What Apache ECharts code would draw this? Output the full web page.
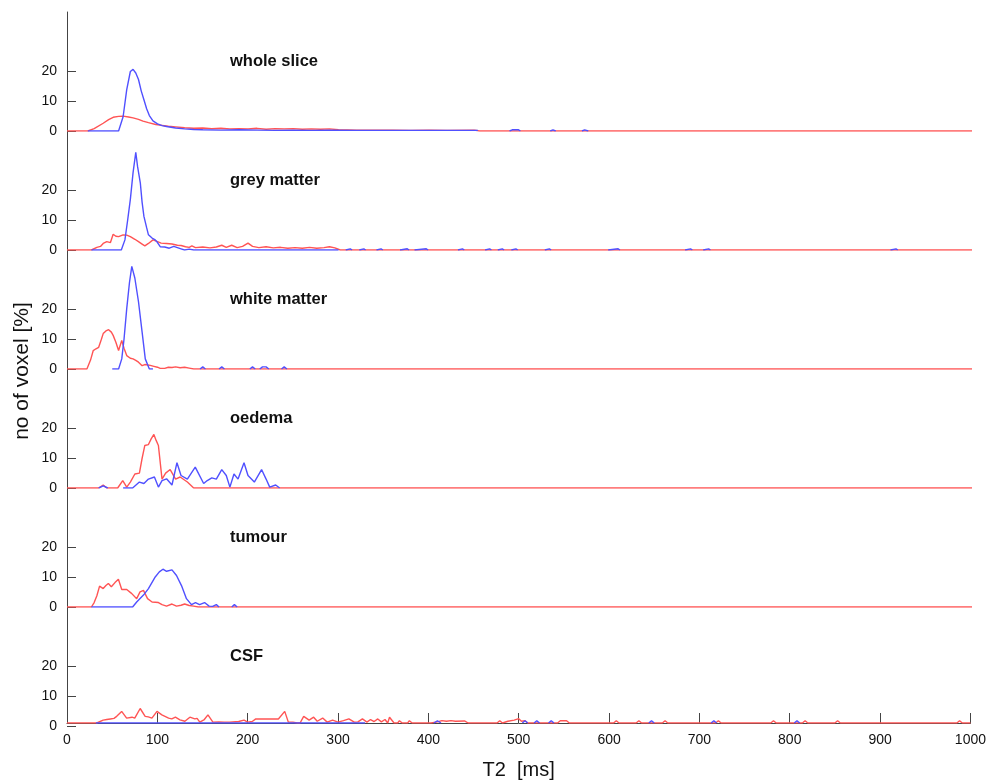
<!DOCTYPE html>
<html>
<head>
<meta charset="utf-8">
<title>T2 histograms</title>
<script src="https://cdn.jsdelivr.net/npm/echarts@6/dist/echarts.min.js"></script>
<style>
  html, body { margin: 0; padding: 0; background: #fff; }
  #chart { width: 989px; height: 781px; }
</style>
</head>
<body>
<div id="chart"></div>
<script>
// panel names, top to bottom
var panelNames = ['whole slice', 'grey matter', 'white matter', 'oedema', 'tumour', 'CSF'];

var xTicks = [0, 100, 200, 300, 400, 500, 600, 700, 800, 900, 1000];
var yTicks = [0, 10, 20];

// [T2 ms, % voxels]; '-' breaks the line
var wsRed = [[0,0],[23,0],[30,0.8],[40,2.6],[46,3.8],[51,4.6],[57,4.9],[62,5.0],[68,4.7],[73,4.4],[79,3.9],[84,3.3],[90,2.8],[98,2.2],[105,1.9],[112,1.6],[120,1.4],[130,1.1],[140,0.9],[150,1.0],[160,0.8],[170,0.9],[180,0.7],[190,0.8],[200,0.7],[210,0.9],[220,0.6],[230,0.8],[240,0.7],[250,0.8],[260,0.6],[270,0.7],[280,0.6],[290,0.7],[300,0.4],[320,0.3],[340,0.3],[360,0.3],[380,0.2],[400,0.3],[420,0.2],[450,0.3],[456,0],[1000,0]];
var wsBlue = [[23,0],[57,0],[62,4.8],[66,13.9],[70,20],[73,20.7],[76,19.5],[79,17.3],[82,13.5],[85,10.5],[88,7.5],[91,5.2],[95,3.4],[100,2.4],[105,1.8],[110,1.5],[120,1.0],[130,0.7],[140,0.5],[150,0.4],[170,0.3],[190,0.4],[210,0.3],[230,0.2],[250,0.3],[270,0.2],[290,0.3],[320,0.2],[362,0.2],[364,0],[366,0.2],[384,0.2],[386,0],[388,0.2],[424,0.2],[426,0],[440,0.2],[454,0.2],[456,'-'],[489,0],[492,0.4],[499,0.4],[501,0],[502,'-'],[534,0],[537,0.4],[540,0],[541,'-'],[569,0],[572,0.4],[576,0]];

var gmRed = [[0,0],[27,0],[33,0.9],[37,1.2],[40,2.2],[44,2.8],[48,2.5],[51,5.3],[54,4.6],[57,4.5],[62,5.1],[66,5.0],[70,4.5],[75,3.6],[79,2.8],[83,2.0],[86,1.4],[90,2.2],[95,3.4],[100,2.8],[104,2.3],[110,2.2],[116,2.0],[122,1.6],[126,1.5],[131,1.1],[135,0.9],[138,1.4],[142,0.8],[150,1.0],[158,0.7],[165,1.0],[171,1.6],[176,0.9],[182,1.6],[188,0.8],[194,1.2],[200,2.3],[205,1.2],[212,0.8],[220,1.1],[228,0.7],[236,0.9],[244,0.6],[252,0.8],[260,0.6],[268,0.9],[276,0.6],[284,0.8],[290,1.1],[296,0.7],[302,0],[1000,0]];
var gmBlue = [[27,0],[60,0],[64,3.4],[67,10],[70,17],[73,26],[76,32.8],[78,28],[81,22.6],[83,16],[85,11.3],[88,7.5],[90,5.1],[94,4.0],[97.5,3.4],[100,2.5],[103,1.1],[108,1.0],[113,0.6],[118,1.2],[122,0.8],[126,0.4],[130,0],[135,0.3],[140,0],[300,0],[301,'-'],
  [308,0],[310,0.4],[313,0.4],[315,0],[316,'-'],[323,0],[325,0.4],[328,0.4],[330,0],[331,'-'],[342,0],[344,0.4],[347,0.4],[349,0],[350,'-'],
  [368,0],[370,0.4],[376,0.4],[378,0],[379,'-'],[384,0],[386,0.4],[397,0.4],[399,0],[400,'-'],[432,0],[434,0.4],[437,0.4],[439,0],[440,'-'],
  [462,0],[464,0.4],[467,0.4],[469,0],[470,'-'],[476,0],[478,0.4],[481,0.4],[483,0],[484,'-'],[491,0],[493,0.4],[496,0.4],[498,0],[499,'-'],
  [528,0],[530,0.4],[533,0.4],[535,0],[536,'-'],[598,0],[600,0.4],[609,0.4],[611,0],[612,'-'],[683,0],[685,0.4],[689,0.4],[691,0],[692,'-'],
  [703,0],[705,0.4],[709,0.4],[711,0],[712,'-'],[910,0],[912,0.4],[916,0.4],[918,0]];

var wmRed = [[0,0],[22,0],[26,3],[29,6.2],[32,6.8],[35,7.3],[38,10],[40,11.9],[43,12.8],[46,13.2],[49,12.4],[51,11.3],[54,9],[57,6.2],[60.5,9.6],[63,7],[66,4.5],[70,3.6],[73,3.4],[76,2.9],[79,2.3],[83,1.1],[86,1.5],[88,1.7],[92,1.2],[96,0.9],[100,0.6],[103,0.2],[108,0.2],[112,0.6],[116,0.5],[120,0.7],[125,0.4],[130,0.6],[135,0.3],[140,0],[1000,0]];
var wmBlue = [[50,0],[57,0],[60.5,3.4],[63,10],[66,20.3],[69,29],[71.6,34.5],[75,30.5],[79,22.6],[83,12.4],[86.5,3.4],[91,0],[95,0],[96,'-'],
  [147,0],[150,0.7],[153,0],[154,'-'],[168,0],[171,0.7],[174,0],[175,'-'],[202,0],[205,0.7],[208,0],[209,'-'],[213,0],[216,0.7],[220,0.7],[223,0],[224,'-'],[237,0],[240,0.7],[243,0]];

var oeRed = [[0,0],[35,0],[40,1],[44,0],[56,0],[61.6,2.5],[66,0.3],[70,2],[75,4.7],[80,5],[83,10],[86,14.3],[90,14.6],[93,16.5],[96,18],[98.5,16],[101,14.3],[105,3],[109,5],[114,6.2],[120,3],[125,3.7],[133,2],[140,0],[1000,0]];
var oeBlue = [[35,0],[40,0.7],[45,0],[46,'-'],[62,0],[72.5,0],[80,2],[85,1.5],[90,3],[96.6,3.7],[101,0.3],[105,2.5],[110,3.1],[116,1],[121.5,8.5],[126,4.2],[133,3],[141.7,7],[151,1.5],[155,2.5],[160,3.4],[165,3],[171,6.2],[176,4.2],[180,0.3],[184.5,4.7],[189,3],[195.6,8.5],[200,4.2],[207,2],[215,6.2],[220,3],[224,0.3],[230.6,1],[235,0]];

var tuRed = [[0,0],[27,0],[30,1.5],[33,3.8],[36,7],[40,6.2],[43,7.2],[45.7,7.9],[49,6.8],[53,8.2],[56.8,9.3],[60.5,5.9],[66,5.9],[71.6,4.5],[77,2.8],[80.7,5.1],[84.5,5.6],[89,2.8],[94,1.7],[101,1.5],[105,0.8],[110,0.3],[116,1],[121,0.3],[126,0.6],[130,1],[135,0.5],[140,0.3],[145,0],[1000,0]];
var tuBlue = [[27,0],[72.5,0],[77,1.7],[84.5,4],[90,6.2],[97.5,10.1],[102,11.8],[106,12.7],[110,12],[116,12.5],[121,10.6],[126.5,7.2],[132,2.8],[137.5,0.8],[142,1.5],[146.5,0.8],[152,1.5],[157,0.3],[161,0.2],[165,0.8],[168,0],[169,'-'],[182,0],[185,0.8],[188,0]];

var csfRed = [[0,0],[33,0],[40,1],[44,1.2],[48,1.4],[52,1.6],[55,2.3],[60.5,4],[66,1.7],[72,2],[75,1.7],[81,5],[86.5,2.3],[90,2.1],[94,1.7],[99.6,4],[105,2.8],[112.5,1.7],[116,1.4],[120,2],[125,1.1],[130.5,0.6],[136,2],[141.5,1.4],[144,1.6],[147,0.3],[152,1.2],[156,2.8],[161.5,0.3],[168,0.4],[174,0.3],[180,0.3],[190,0.5],[196,1],[200,0.3],[205,0.5],[209,1.4],[234,1.4],[241,4],[245,0.3],[250,0.3],[255,0],[258,0],[262,2.3],[268,1],[273,2],[277,0.6],[283,1.7],[288,0.3],[294,1],[300,0.3],[306,0.8],[312,1.4],[318,0.3],[322,0.4],[327,1.4],[332,0.3],[336,1.2],[340,0.5],[344,1.4],[348,0.4],[352,1.2],[355,0],[357,2],[362,0],[366,0],[368,0.8],[371,0],[377,0],[379,0.8],[382,0],[403,0],[405,0.5],[410,0.4],[415,0.8],[420,0.6],[425,0.8],[430,0.6],[440,0.7],[444,0],[476,0],[479,0.8],[482,0],[488,0.6],[495,1],[500,1.5],[503,0.6],[507,0.8],[510,0],[543,0],[546,0.8],[553,0.8],[556,0],[605,0],[608,0.8],[611,0],[630,0],[633,0.8],[636,0],[659,0],[662,0.8],[665,0],[718,0],[721,0.8],[724,0],[779,0],[782,0.8],[785,0],[814,0],[817,0.8],[820,0],[850,0],[853,0.8],[856,0],[985,0],[988,0.8],[991,0],[1000,0]];
var csfBlue = [[32,0],[330,0],[331,'-'],[406,0],[410,0.7],[414,0],[415,'-'],[504,0],[507,0.8],[510,0],[511,'-'],[517,0],[520,0.8],[523,0],[524,'-'],[533,0],[536,0.8],[539,0],[540,'-'],[644,0],[647,0.8],[650,0],[651,'-'],[713,0],[716,0.8],[719,0],[720,'-'],[805,0],[808,0.8],[811,0]];

var redSets = [wsRed, gmRed, wmRed, oeRed, tuRed, csfRed];
var blueSets = [wsBlue, gmBlue, wmBlue, oeBlue, tuBlue, csfBlue];

(function () {
  var RED = '#ff5454';
  var BLUE = '#5050ff';
  var FONT = 'Liberation Sans';

  var chart = echarts.init(document.getElementById('chart'));

  var grids = [], xAxes = [], yAxes = [], series = [], titles = [];
  var plotTop = 12, plotH = 119, yMax = 40;
  var tickH = plotH * (yTicks[yTicks.length - 1] / yMax);
  var n = panelNames.length;

  for (var i = 0; i < n; i++) {
    var panelTop = plotTop + i * plotH;
    var last = (i === n - 1);
    // data grid (full panel height, axis line only)
    grids.push({ left: 67, width: 905, top: panelTop, height: plotH });
    xAxes.push({
      gridIndex: i, type: 'value', min: 0, max: xTicks[xTicks.length - 1], interval: 100,
      show: last,
      name: last ? 'T2  [ms]' : '',
      nameLocation: 'middle', nameGap: 37,
      nameTextStyle: { fontFamily: FONT, fontSize: 20, color: '#111' },
      axisLine: { show: true, lineStyle: { color: '#444', width: 1 } },
      axisTick: { show: true, inside: true, length: 10, lineStyle: { color: '#444' } },
      axisLabel: {
        fontFamily: FONT, fontSize: 14, color: '#111', margin: 10,
        formatter: function (v) { return String(v); }
      },
      splitLine: { show: false }
    });
    yAxes.push({
      gridIndex: i, type: 'value', min: 0, max: yMax, interval: 10,
      axisLine: { show: true, lineStyle: { color: '#444', width: 1 } },
      axisTick: { show: false },
      axisLabel: { show: false },
      splitLine: { show: false }
    });
    series.push({
      type: 'line', xAxisIndex: i, yAxisIndex: i, data: redSets[i],
      showSymbol: false, symbol: 'none', animation: false, z: 2,
      lineStyle: { color: RED, width: 1.4 }
    });
    series.push({
      type: 'line', xAxisIndex: i, yAxisIndex: i, data: blueSets[i],
      showSymbol: false, symbol: 'none', animation: false, z: 3,
      lineStyle: { color: BLUE, width: 1.4 }
    });
    titles.push({
      text: panelNames[i], left: 225, top: panelTop + plotH - 83,
      textStyle: { fontFamily: FONT, fontSize: 16.5, fontWeight: 'bold', color: '#111' }
    });
  }

  // tick grids: the 0..20 part of each panel, carrying the y ticks and labels
  for (var j = 0; j < n; j++) {
    var base = plotTop + (j + 1) * plotH;
    grids.push({ left: 67, width: 905, top: base - tickH, height: tickH });
    xAxes.push({ gridIndex: n + j, type: 'value', min: 0, max: 1000, show: false });
    yAxes.push({
      gridIndex: n + j, type: 'value', min: 0, max: yTicks[yTicks.length - 1], interval: 10,
      axisLine: { show: false },
      axisTick: { show: true, inside: true, length: 9, lineStyle: { color: '#444' } },
      axisLabel: { fontFamily: FONT, fontSize: 14, color: '#111', margin: 10 },
      splitLine: { show: false }
    });
  }

  chart.setOption({
    animation: false,
    title: titles,
    grid: grids,
    xAxis: xAxes,
    yAxis: yAxes,
    series: series,
    graphic: [{
      type: 'text', x: 22, y: 371, rotation: Math.PI / 2,
      style: {
        text: 'no of voxel [%]', fontFamily: FONT, fontSize: 21, fill: '#111',
        textAlign: 'center', textVerticalAlign: 'middle'
      }
    }]
  });
})();
</script>
</body>
</html>
